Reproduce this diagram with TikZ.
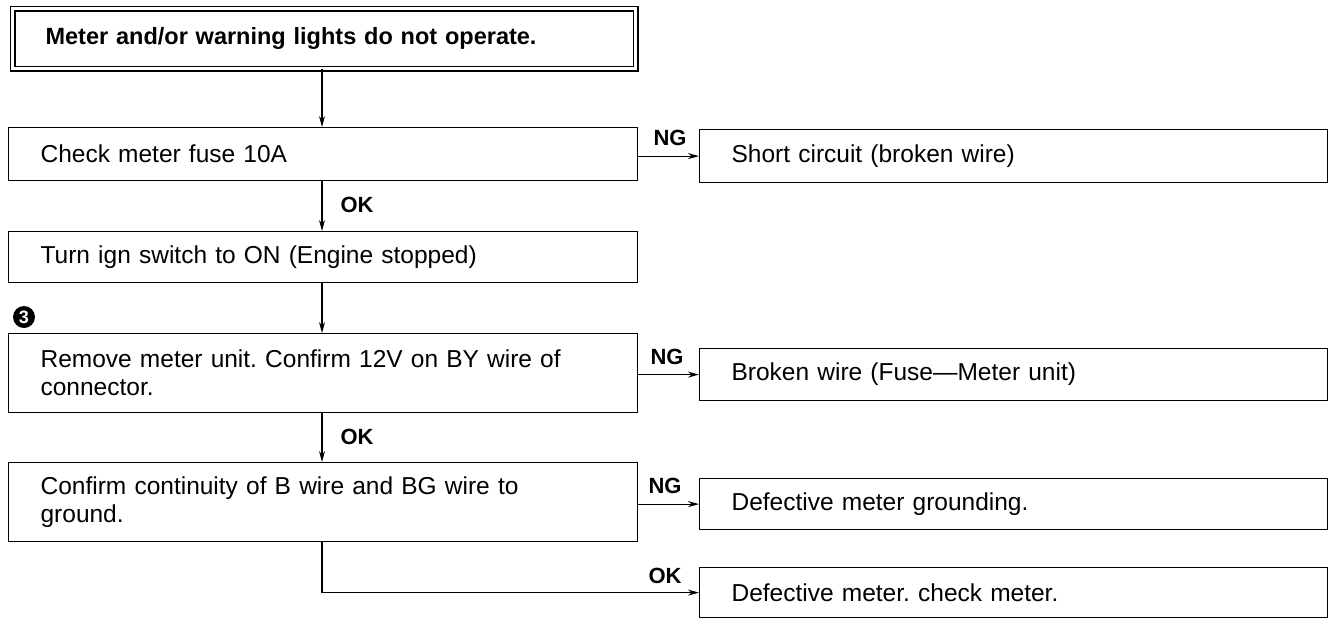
\documentclass[tikz,border=0pt]{standalone}
\usepackage{fontspec}
\setmainfont{Liberation Sans}
\usetikzlibrary{arrows.meta}
\frenchspacing
\begin{document}
\begin{tikzpicture}[x=1pt,y=-1pt,
  box/.style={draw, line width=1.2pt, rectangle, inner xsep=32pt, inner ysep=0pt,
    align=left, anchor=north west, font=\fontsize{24.5}{28}\selectfont},
  lbox/.style={box, text width=565pt},
  rbox/.style={box, text width=564pt},
  lbl/.style={font=\bfseries\fontsize{22}{22}\selectfont, inner sep=0pt},
  arr/.style={line width=1.2pt, -{Stealth[length=11pt,width=6pt]}}
]
\useasboundingbox (0,0) rectangle (1330,619);

% title
\node[draw, double, double distance=3.6pt, line width=1.2pt, rectangle,
  inner xsep=33pt, inner ysep=0pt, anchor=north west, minimum height=60pt,
  text width=557pt, align=left, font=\bfseries\fontsize{23.5}{28}\selectfont]
  (title) at (12,8) {Meter and/or warning lights do not operate.};

% left column
\node[lbox, minimum height=53pt] (b1) at (8,127) {Check meter fuse 10A};
\node[lbox, minimum height=51pt] (b2) at (8,231) {Turn ign switch to ON (Engine stopped)};
\node[lbox, minimum height=79pt] (b3) at (8,333) {Remove meter unit. Confirm 12V on BY wire of\\connector.};
\node[lbox, minimum height=79pt] (b4) at (8,462) {Confirm continuity of B wire and BG wire to\\ground.};

% right column
\node[rbox, minimum height=53pt] (r1) at (699,129) {Short circuit (broken wire)};
\node[rbox, minimum height=52pt] (r2) at (699,348) {Broken wire (Fuse---Meter unit)};
\node[rbox, minimum height=51pt] (r3) at (699,478) {Defective meter grounding.};
\node[rbox, minimum height=50pt] (r4) at (699,567) {Defective meter. check meter.};

% step marker
\node[circle, fill=black, inner sep=0pt, minimum size=22pt, text=white,
  font=\bfseries\fontsize{18}{18}\selectfont] (m3) at (24,317) {3};

% vertical arrows
\coordinate (x0) at (322,0);
\draw[arr] (title.south -| x0) -- (b1.north -| x0);
\draw[arr] (b1.south -| x0) -- (b2.north -| x0);
\draw[arr] (b2.south -| x0) -- (b3.north -| x0);
\draw[arr] (b3.south -| x0) -- (b4.north -| x0);
\node[lbl] (ok1) at (357,205) {OK};
\node[lbl] (ok2) at (357,437) {OK};

% NG arrows
\draw[arr] (b1.east |- r1.west) -- (r1.west);
\node[lbl] (ng1) at (670,138) {NG};
\draw[arr] (b3.east |- r2.west) -- (r2.west);
\node[lbl] (ng2) at (667,357) {NG};
\draw[arr] (b4.east |- r3.west) -- (r3.west);
\node[lbl] (ng3) at (665,486) {NG};

% OK path
\draw[arr] (b4.south -| x0) |- (r4.west);
\node[lbl] (ok3) at (665,576) {OK};
\end{tikzpicture}
\end{document}
